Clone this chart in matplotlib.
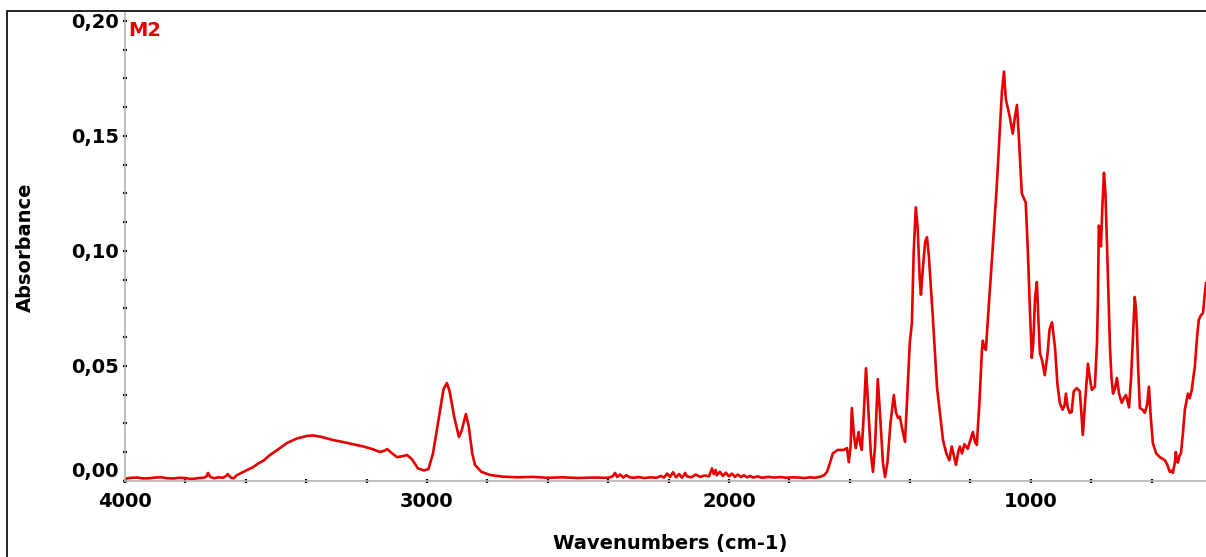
import matplotlib
matplotlib.use("Agg")
import matplotlib.pyplot as plt
from matplotlib.ticker import FixedLocator, MultipleLocator, FuncFormatter
from matplotlib.patches import Rectangle
import matplotlib.transforms as mtransforms

# FTIR spectrum of sample M2 (wavenumber in cm-1, absorbance)
wavenumber = [
    4000, 3980, 3960, 3940, 3920, 3900, 3880, 3860, 3840, 3820, 3800, 3785, 3770, 3755,
    3740, 3730, 3725, 3718, 3705, 3690, 3675, 3665, 3660, 3650, 3640, 3630, 3615, 3600,
    3576, 3560, 3540, 3520, 3490, 3464, 3430, 3397, 3377, 3350, 3311, 3280, 3245, 3210,
    3179, 3156, 3140, 3132, 3120, 3099, 3080, 3066, 3050, 3030, 3010, 2995, 2980, 2960,
    2945, 2934, 2925, 2910, 2894, 2885, 2871, 2862, 2850, 2841, 2820, 2791, 2750, 2700,
    2650, 2600, 2550, 2500, 2450, 2400, 2385, 2377, 2370, 2360, 2350, 2340, 2328, 2315,
    2300, 2280, 2260, 2240, 2225, 2215, 2205, 2195, 2185, 2175, 2165, 2155, 2145, 2139,
    2125, 2110, 2095, 2080, 2066, 2056, 2050, 2044, 2040, 2030, 2020, 2010, 2000, 1990,
    1980, 1970, 1960, 1950, 1940, 1930, 1920, 1905, 1890, 1870, 1850, 1830, 1810, 1790,
    1770, 1750, 1730, 1715, 1699, 1685, 1675, 1665, 1656, 1640, 1620, 1609, 1603, 1597,
    1593, 1586, 1580, 1575, 1570, 1565, 1560, 1553, 1546, 1540, 1530, 1523, 1516, 1507,
    1500, 1490, 1483, 1475, 1465, 1454, 1447, 1440, 1434, 1425, 1417, 1410, 1401, 1394,
    1388, 1381, 1375, 1368, 1364, 1358, 1350, 1344, 1338, 1325, 1311, 1300, 1291, 1280,
    1270, 1262, 1255, 1248, 1240, 1235, 1228, 1220, 1209, 1200, 1192, 1185, 1179, 1170,
    1162, 1159, 1155, 1149, 1140, 1126, 1113, 1096, 1089, 1083, 1076, 1068, 1060, 1053,
    1046, 1040, 1030, 1017, 1010, 1003, 997, 992, 986, 980, 975, 970, 962, 954,
    945, 938, 930, 920, 912, 904, 895, 888, 884, 878, 871, 865, 858, 848,
    838, 833, 828, 820, 811, 805, 798, 788, 781, 778, 775, 771, 768, 763,
    758, 753, 748, 743, 738, 733, 728, 722, 715, 708, 699, 692, 685, 675,
    668, 662, 656, 652, 649, 645, 639, 630, 623, 615, 609, 603, 596, 585,
    573, 556, 548, 540, 535, 530, 523, 520, 516, 513, 508, 503, 497, 490,
    480, 474, 467, 462, 457, 450, 444, 437, 430, 425, 420,
]
absorbance = [
    0.0010, 0.0014, 0.0015, 0.0011, 0.0012, 0.0015, 0.0016, 0.0012, 0.0011, 0.0014, 0.0013, 0.0009, 0.0010, 0.0013,
    0.0014, 0.0020, 0.0035, 0.0018, 0.0012, 0.0016, 0.0014, 0.0022, 0.0030, 0.0015, 0.0012, 0.0025, 0.0035, 0.0045,
    0.0060, 0.0075, 0.0090, 0.0113, 0.0140, 0.0165, 0.0185, 0.0196, 0.0198, 0.0192, 0.0178, 0.0170, 0.0160, 0.0150,
    0.0138, 0.0126, 0.0132, 0.0139, 0.0125, 0.0104, 0.0108, 0.0113, 0.0095, 0.0055, 0.0046, 0.0052, 0.0120, 0.0280,
    0.0400, 0.0426, 0.0390, 0.0280, 0.0191, 0.0220, 0.0291, 0.0240, 0.0120, 0.0070, 0.0040, 0.0026, 0.0019, 0.0016,
    0.0018, 0.0014, 0.0016, 0.0013, 0.0015, 0.0014, 0.0020, 0.0035, 0.0018, 0.0028, 0.0015, 0.0025, 0.0016, 0.0014,
    0.0017, 0.0013, 0.0016, 0.0014, 0.0022, 0.0015, 0.0032, 0.0018, 0.0038, 0.0016, 0.0030, 0.0014, 0.0035, 0.0020,
    0.0016, 0.0028, 0.0018, 0.0024, 0.0020, 0.0055, 0.0030, 0.0048, 0.0025, 0.0040, 0.0022, 0.0036, 0.0020, 0.0032,
    0.0018, 0.0028, 0.0017, 0.0025, 0.0016, 0.0022, 0.0015, 0.0020, 0.0014, 0.0018, 0.0015, 0.0017, 0.0014, 0.0016,
    0.0015, 0.0013, 0.0016, 0.0014, 0.0018, 0.0025, 0.0040, 0.0080, 0.0120, 0.0135, 0.0135, 0.0143, 0.0082, 0.0150,
    0.0317, 0.0200, 0.0143, 0.0180, 0.0213, 0.0160, 0.0135, 0.0300, 0.0490, 0.0350, 0.0120, 0.0040, 0.0150, 0.0443,
    0.0300, 0.0080, 0.0017, 0.0080, 0.0250, 0.0374, 0.0300, 0.0274, 0.0280, 0.0220, 0.0170, 0.0350, 0.0600, 0.0687,
    0.1000, 0.1190, 0.1100, 0.0880, 0.0810, 0.0920, 0.1040, 0.1060, 0.0980, 0.0720, 0.0410, 0.0280, 0.0178, 0.0120,
    0.0090, 0.0150, 0.0110, 0.0070, 0.0130, 0.0150, 0.0120, 0.0160, 0.0140, 0.0180, 0.0213, 0.0170, 0.0157, 0.0350,
    0.0570, 0.0610, 0.0580, 0.0570, 0.0750, 0.1020, 0.1280, 0.1690, 0.1780, 0.1660, 0.1620, 0.1570, 0.1510, 0.1580,
    0.1635, 0.1500, 0.1250, 0.1210, 0.1000, 0.0740, 0.0535, 0.0600, 0.0800, 0.0865, 0.0700, 0.0556, 0.0520, 0.0460,
    0.0550, 0.0660, 0.0690, 0.0580, 0.0420, 0.0339, 0.0310, 0.0330, 0.0380, 0.0320, 0.0296, 0.0300, 0.0390, 0.0404,
    0.0390, 0.0300, 0.0200, 0.0350, 0.0510, 0.0450, 0.0396, 0.0410, 0.0600, 0.0787, 0.1110, 0.1080, 0.1020, 0.1200,
    0.1340, 0.1250, 0.1035, 0.0800, 0.0580, 0.0450, 0.0380, 0.0400, 0.0448, 0.0380, 0.0340, 0.0360, 0.0374, 0.0320,
    0.0450, 0.0626, 0.0800, 0.0750, 0.0670, 0.0500, 0.0317, 0.0310, 0.0296, 0.0330, 0.0410, 0.0280, 0.0165, 0.0120,
    0.0104, 0.0090, 0.0070, 0.0040, 0.0045, 0.0035, 0.0080, 0.0126, 0.0090, 0.0080, 0.0110, 0.0120, 0.0200, 0.0310,
    0.0380, 0.0360, 0.0396, 0.0450, 0.0496, 0.0620, 0.0700, 0.0720, 0.0730, 0.0800, 0.0860,
]

x_major = [4000, 3000, 2000, 1000]
y_major = [0.00, 0.05, 0.10, 0.15, 0.20]
sample_name = "M2"
x_title = "Wavenumbers (cm-1)"
y_title = "Absorbance"

W, H = 1206, 557
fig = plt.figure(figsize=(W / 100, H / 100), dpi=100)
ax = fig.add_axes([125 / W, 1 - 481 / H, 1 - 125 / W, (481 - 12) / H])

line_red = "#e60000"
ax.plot(wavenumber, absorbance, color=line_red, lw=1.9, solid_joinstyle="round")

ax.set_xlim(4000, 420)
ax.set_ylim(0, 0.2039)

for side in ("top", "right"):
    ax.spines[side].set_visible(False)
for side in ("left", "bottom"):
    ax.spines[side].set_color("#b4b4b4")
    ax.spines[side].set_linewidth(1.2)

ax.xaxis.set_major_locator(FixedLocator(x_major))
ax.xaxis.set_minor_locator(MultipleLocator(200))
ax.yaxis.set_major_locator(FixedLocator(y_major))
ax.yaxis.set_minor_locator(MultipleLocator(0.0125))
ax.yaxis.set_major_formatter(FuncFormatter(lambda v, p: f"{v:.2f}".replace(".", ",")))
ax.xaxis.set_major_formatter(FuncFormatter(lambda v, p: f"{v:.0f}"))

ax.tick_params(which="both", direction="inout", length=2.5, width=1.6, color="black")
ax.tick_params(axis="x", which="major", pad=7)
ax.tick_params(axis="y", which="major", pad=3)
for lab in ax.get_xticklabels() + ax.get_yticklabels():
    lab.set_fontfamily("DejaVu Sans")
    lab.set_fontweight("bold")
    lab.set_fontsize(14)

# lift the zero label above the baseline
zero_lab = ax.get_yticklabels()[0]
zero_lab.set_transform(zero_lab.get_transform() + mtransforms.ScaledTranslation(0, 12 / 100, fig.dpi_scale_trans))

fig.text(670 / W, 1 - 543 / H, x_title, ha="center", va="center",
         fontsize=14, fontweight="bold", family="DejaVu Sans")
fig.text(25 / W, 1 - 247 / H, y_title, ha="center", va="center", rotation=90,
         fontsize=14, fontweight="bold", family="DejaVu Sans")
fig.text(128 / W, 1 - 31 / H, sample_name, ha="left", va="center", color=line_red,
         fontsize=14, fontweight="bold", family="DejaVu Sans")

fig.patches.append(Rectangle((7 / W, -0.05), 1.2, 1 - 11 / H + 0.05, transform=fig.transFigure,
                             fill=False, edgecolor="black", lw=1.2, clip_on=False))

fig.savefig("out.png", dpi=100)
